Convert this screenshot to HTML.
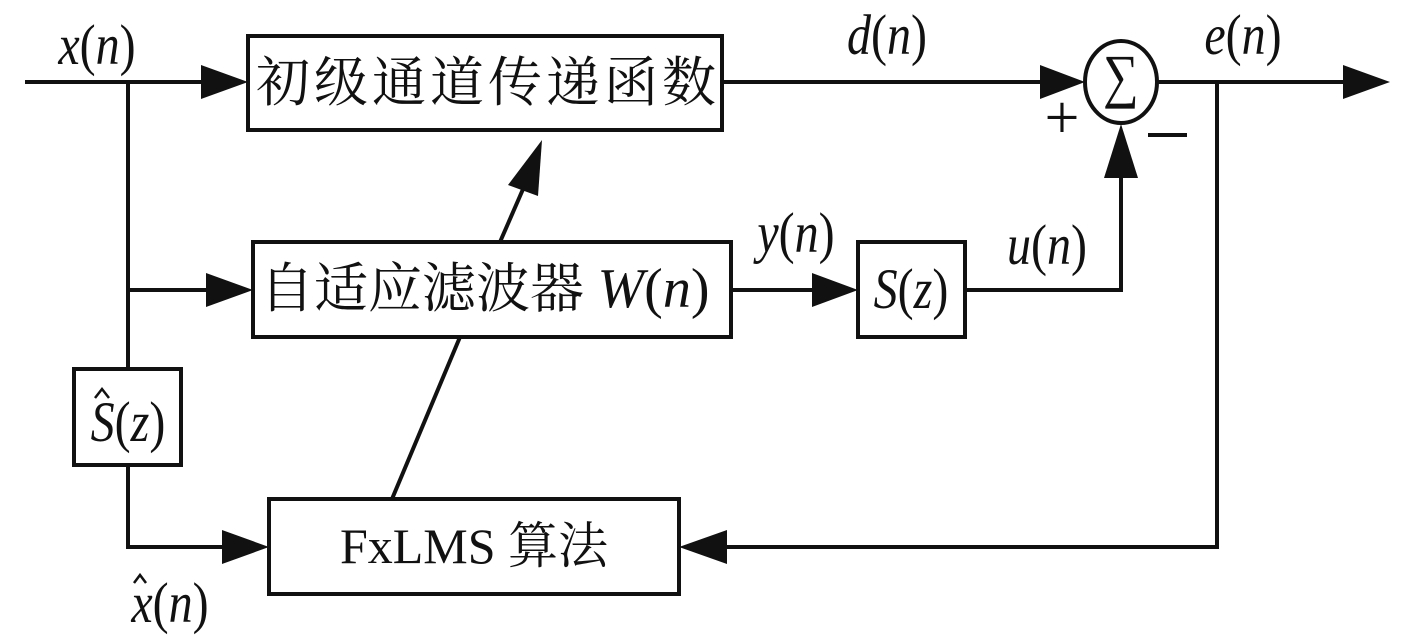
<!DOCTYPE html>
<html><head><meta charset="utf-8"><style>body{margin:0;background:#fff}svg{display:block}
text{font-family:"Liberation Serif","Noto Serif CJK SC",serif;fill:#111}
.i{font-style:italic}
.cj{font-family:"Liberation Serif","Noto Serif CJK SC",serif}
</style></head><body>
<svg width="1417" height="643" viewBox="0 0 1417 643" xmlns="http://www.w3.org/2000/svg">
<g stroke="#111" stroke-width="4" fill="none">
<rect x="248" y="36" width="474" height="94"/>
<rect x="253" y="242" width="478" height="95"/>
<rect x="858" y="242" width="107" height="95"/>
<rect x="74" y="369" width="107" height="96"/>
<rect x="269" y="499" width="410" height="95"/>
<ellipse cx="1121" cy="82" rx="36" ry="41"/>
<polyline points="25,82 205,82"/>
<polyline points="128,82 128,369"/>
<polyline points="128,290 210,290"/>
<polyline points="128,465 128,547 225,547"/>
<polyline points="722,82 1045,82"/>
<polyline points="1157,82 1350,82"/>
<polyline points="1217,82 1217,547 725,547"/>
<polyline points="731,290 815,290"/>
<polyline points="965,290 1121,290 1121,175"/>
<line x1="500" y1="242" x2="527" y2="180"/>
<line x1="392" y1="499" x2="460" y2="337"/>
</g>
<g fill="#111">
<polygon points="201,65 248,82 201,99"/>
<polygon points="206,273 253,290 206,307"/>
<polygon points="222,530 269,547 222,564"/>
<polygon points="727,530 679,547 727,564"/>
<polygon points="1040,65 1085,82 1040,99"/>
<polygon points="1343,65 1390,82 1343,99"/>
<polygon points="812,273 858,290 812,307"/>
<polygon points="1104,178 1121,124 1138,178"/>
<polygon points="542,140 508,185 538,196"/>
</g>
<g font-size="48">
<text transform="translate(97,64) scale(1,1.2)" text-anchor="middle"><tspan class="i">x</tspan>(<tspan class="i">n</tspan>)</text>
<text transform="translate(887,54) scale(1,1.2)" text-anchor="middle"><tspan class="i">d</tspan>(<tspan class="i">n</tspan>)</text>
<text transform="translate(1243,54) scale(1,1.2)" text-anchor="middle"><tspan class="i">e</tspan>(<tspan class="i">n</tspan>)</text>
<text transform="translate(796,252) scale(1,1.2)" text-anchor="middle"><tspan class="i">y</tspan>(<tspan class="i">n</tspan>)</text>
<text transform="translate(1047,264) scale(1,1.2)" text-anchor="middle"><tspan class="i">u</tspan>(<tspan class="i">n</tspan>)</text>
<text transform="translate(911,308) scale(1,1.2)" text-anchor="middle"><tspan class="i">S</tspan>(<tspan class="i">z</tspan>)</text>
<text transform="translate(128,441) scale(1,1.2)" text-anchor="middle"><tspan class="i">S</tspan>(<tspan class="i">z</tspan>)</text>
<text transform="translate(170,622) scale(1,1.2)" text-anchor="middle"><tspan class="i">x</tspan>(<tspan class="i">n</tspan>)</text>
<g stroke="#111" stroke-width="2.5" fill="none">
<polyline points="95,398 102,389 109,398"/>
<polyline points="134,583 140,575 146,583"/>
</g>
<text transform="translate(1121,96) scale(1,1.2)" text-anchor="middle" font-size="50">∑</text>
<text x="1062" y="138" text-anchor="middle" font-size="62">+</text>
<line x1="1148" y1="135" x2="1187" y2="135" stroke="#111" stroke-width="4"/>
<text x="486" y="101" text-anchor="middle" font-size="54" class="cj" textLength="460">初级通道传递函数</text>
<text x="260" y="307" font-size="54" class="cj">自适应滤波器 <tspan class="i" font-size="56">W</tspan><tspan font-size="56">(</tspan><tspan class="i" font-size="56">n</tspan><tspan font-size="56">)</tspan></text>
<text x="474" y="563" text-anchor="middle" font-size="50" class="cj">FxLMS 算法</text>
</g>
</svg>
</body></html>
